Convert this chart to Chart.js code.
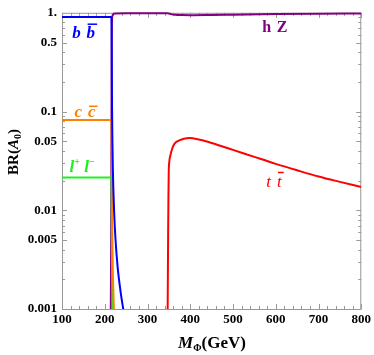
<!DOCTYPE html>
<html>
<head>
<meta charset="utf-8">
<script src="https://cdn.jsdelivr.net/npm/chart.js@4"></script>
<style>
  html, body { margin: 0; padding: 0; background: #fff; }
</style>
</head>
<body>
<canvas id="myChart" width="374" height="355"></canvas>
<script>
// masses (GeV) and branching ratios
const bbMass = [100, 215, 215.7, 216, 216.3, 216.6, 217, 217.5, 218, 219, 220, 222, 225, 230, 237, 245, 252];
const bbBR   = [0.905, 0.905, 0.85, 0.7, 0.44, 0.23, 0.12, 0.071, 0.047, 0.026, 0.017, 0.0095, 0.0052, 0.0027, 0.0015, 0.0009, 0.0006];

const ccMass = [100, 215, 215.7, 216, 216.3, 216.6, 217, 217.5, 218, 219, 220, 221, 222];
const ccBR   = [0.082, 0.082, 0.077, 0.063, 0.04, 0.021, 0.011, 0.0064, 0.0043, 0.0024, 0.0016, 0.0011, 0.0008];

const llMass = [100, 215, 215.7, 216, 216.3, 216.6, 217, 217.5, 218, 218.6];
const llBR   = [0.0215, 0.0215, 0.02, 0.016, 0.0105, 0.0054, 0.0029, 0.0017, 0.0011, 0.0008];

const hzMass = [214, 215, 215.7, 216, 216.3, 216.6, 217, 218, 220, 225, 250, 300, 340, 347, 350, 355, 365, 380, 400, 450, 500, 600, 700, 800];
const hzBR   = [0.0008, 0.005, 0.05, 0.2, 0.5, 0.75, 0.86, 0.93, 0.97, 0.985, 0.99, 0.99, 0.99, 0.99, 0.985, 0.97, 0.955, 0.95, 0.947, 0.952, 0.958, 0.97, 0.978, 0.983];

const ttMass = [347, 347.6, 348.3, 349, 349.7, 351, 353.6, 357, 361, 367, 374.5, 385, 398, 420, 450, 500, 550, 600, 650, 700, 750, 800];
const ttBR   = [0.0008, 0.002, 0.006, 0.014, 0.0246, 0.031, 0.036, 0.041, 0.0456, 0.049, 0.0511, 0.053, 0.0539, 0.0521, 0.0481, 0.0409, 0.0347, 0.0295, 0.0254, 0.022, 0.0194, 0.0172];

const yTickValues = [0.001, 0.005, 0.01, 0.05, 0.1, 0.5, 1];
const yTickLabels = ['0.001', '0.005', '0.01', '0.05', '0.1', '0.5', '1.'];

const serif = '"Liberation Serif", "Times New Roman", serif';

function pts(xs, ys) {
  return xs.map((x, i) => ({ x: x, y: ys[i] }));
}

function series(label, xs, ys, color) {
  return {
    label: label,
    data: pts(xs, ys),
    borderColor: color,
    backgroundColor: color,
    borderWidth: 2,
    pointRadius: 0,
    cubicInterpolationMode: 'monotone',
    clip: { left: 0, top: 3, right: 0, bottom: 0 },
    fill: false
  };
}

// in-frame ticks like the original plot
const frameTicks = {
  id: 'frameTicks',
  beforeDatasetsDraw(chart) {
    const { ctx, chartArea: a, scales: { x, y } } = chart;
    ctx.save();
    ctx.strokeStyle = '#999';
    ctx.lineWidth = 1;
    ctx.strokeRect(a.left + 0.5, a.top + 0.5, a.right - a.left - 1, a.bottom - a.top);
    ctx.beginPath();
    for (let v = 100; v <= 800; v += 20) {
      const px = Math.round(x.getPixelForValue(v)) + 0.5;
      const len = v % 100 === 0 ? 5 : 3;
      ctx.moveTo(px, a.bottom); ctx.lineTo(px, a.bottom - len);
      ctx.moveTo(px, a.top); ctx.lineTo(px, a.top + len);
    }
    [0.001, 0.01, 0.1].forEach(d => {
      for (let m = 1; m <= 9; m++) {
        const py = Math.round(y.getPixelForValue(m * d)) + 0.5;
        const len = (m === 1 || m === 5) ? 5 : 3;
        ctx.moveTo(a.left, py); ctx.lineTo(a.left + len, py);
        ctx.moveTo(a.right, py); ctx.lineTo(a.right - len, py);
      }
    });
    ctx.stroke();
    ctx.restore();
  },
  afterDraw(chart) {
    const { ctx, scales: { x, y } } = chart;
    ctx.save();
    ctx.textBaseline = 'alphabetic';

    // curve labels
    pairLabel(ctx, 'b', 'b', true, x.getPixelForValue(150.6), y.getPixelForValue(0.553), 'bold italic 17px ' + serif, 'rgb(0,0,255)');
    pairLabel(ctx, 'c', 'c', true, x.getPixelForValue(154), y.getPixelForValue(0.0875), 'bold italic 17px ' + serif, 'rgb(255,128,0)');
    leptonLabel(ctx, x.getPixelForValue(147), y.getPixelForValue(0.0246), 'rgb(30,240,30)');
    pairLabel(ctx, 'h', 'Z', false, x.getPixelForValue(598), y.getPixelForValue(0.635), 'bold 16px ' + serif, 'rgb(128,0,128)');
    pairLabel(ctx, 't', 't', true, x.getPixelForValue(596), y.getPixelForValue(0.0174), 'italic 17px ' + serif, 'rgb(255,0,0)');

    // x title: M_Phi(GeV)
    ctx.fillStyle = '#000';
    const parts = [
      { t: 'M', f: 'bold italic 17px ' + serif, dy: 0 },
      { t: 'Φ', f: 'bold 10px ' + serif, dy: 3 },
      { t: '(GeV)', f: 'bold 17px ' + serif, dy: 0 }
    ];
    drawParts(ctx, parts, 212, 348);

    // y title: BR(A_0)
    ctx.translate(18, 152);
    ctx.rotate(-Math.PI / 2);
    const yparts = [
      { t: 'BR(', f: 'bold 15px ' + serif, dy: 0 },
      { t: 'A', f: 'bold italic 15px ' + serif, dy: 0 },
      { t: '0', f: 'bold 10px ' + serif, dy: 3 },
      { t: ')', f: 'bold 15px ' + serif, dy: 0 }
    ];
    drawParts(ctx, yparts, 0, 0);
    ctx.restore();
  }
};

function drawParts(ctx, parts, cx, base) {
  let w = 0;
  parts.forEach(p => { ctx.font = p.f; p.w = ctx.measureText(p.t).width; w += p.w; });
  let px = cx - w / 2;
  ctx.textAlign = 'left';
  parts.forEach(p => {
    ctx.font = p.f;
    ctx.fillText(p.t, px, base + p.dy);
    px += p.w;
  });
}

function pairLabel(ctx, a, b, bar, cx, base, font, color) {
  ctx.font = font;
  ctx.fillStyle = color;
  ctx.strokeStyle = color;
  ctx.textAlign = 'left';
  const wa = ctx.measureText(a).width;
  const ws = ctx.measureText(' ').width * 1.4;
  const wb = ctx.measureText(b).width;
  const x0 = cx - (wa + ws + wb) / 2;
  ctx.fillText(a, x0, base);
  ctx.fillText(b, x0 + wa + ws, base);
  if (bar) {
    const top = base - (b === 'c' ? 11 : 14);
    ctx.lineWidth = 1.5;
    ctx.beginPath();
    ctx.moveTo(x0 + wa + ws + 1, top);
    ctx.lineTo(x0 + wa + ws + wb + 2, top);
    ctx.stroke();
  }
}

function leptonLabel(ctx, cx, base, color) {
  ctx.fillStyle = color;
  ctx.textAlign = 'left';
  const big = 'bold italic 17px ' + serif;
  const small = 'bold 10px ' + serif;
  ctx.font = big; const wl = ctx.measureText('l').width; const ws = ctx.measureText(' ').width;
  ctx.font = small; const wp = ctx.measureText('+').width; const wm = ctx.measureText('−').width;
  let x0 = cx - (wl * 2 + ws + wp + wm) / 2;
  ctx.font = big; ctx.fillText('l', x0, base); x0 += wl;
  ctx.font = small; ctx.fillText('+', x0, base - 7); x0 += wp + ws;
  ctx.font = big; ctx.fillText('l', x0, base); x0 += wl;
  ctx.font = small; ctx.fillText('−', x0, base - 7);
}

const ctx = document.getElementById('myChart').getContext('2d');
const myChart = new Chart(ctx, {
  type: 'line',
  data: {
    datasets: [
      series('b b', bbMass, bbBR, 'rgb(0,0,255)'),
      series('c c', ccMass, ccBR, 'rgb(255,128,0)'),
      series('l+ l-', llMass, llBR, 'rgb(30,240,30)'),
      series('t t', ttMass, ttBR, 'rgb(255,0,0)'),
      series('h Z', hzMass, hzBR, 'rgb(128,0,128)')
    ]
  },
  options: {
    responsive: false,
    animation: false,
    devicePixelRatio: 1,
    layout: { padding: { left: 0, right: 11, top: 9, bottom: 0 } },
    plugins: {
      legend: { display: false },
      tooltip: { enabled: false }
    },
    scales: {
      x: {
        type: 'linear',
        min: 100,
        max: 800,
        grid: { display: false, drawTicks: false },
        border: { display: false },
        ticks: {
          stepSize: 100,
          padding: 3,
          color: '#000',
          font: { family: serif, size: 13, weight: 'bold' }
        },
        afterFit(scale) { scale.height = 46; }
      },
      y: {
        type: 'logarithmic',
        min: 0.001,
        max: 1,
        grid: { display: false, drawTicks: false },
        border: { display: false },
        afterBuildTicks(scale) {
          scale.ticks = yTickValues.map(v => ({ value: v }));
        },
        ticks: {
          padding: 5,
          color: '#000',
          font: { family: serif, size: 13, weight: 'bold' },
          callback(value) {
            const i = yTickValues.indexOf(value);
            return i >= 0 ? yTickLabels[i] : '';
          }
        },
        afterFit(scale) { scale.width = 62; }
      }
    }
  },
  plugins: [frameTicks]
});
</script>
</body>
</html>
